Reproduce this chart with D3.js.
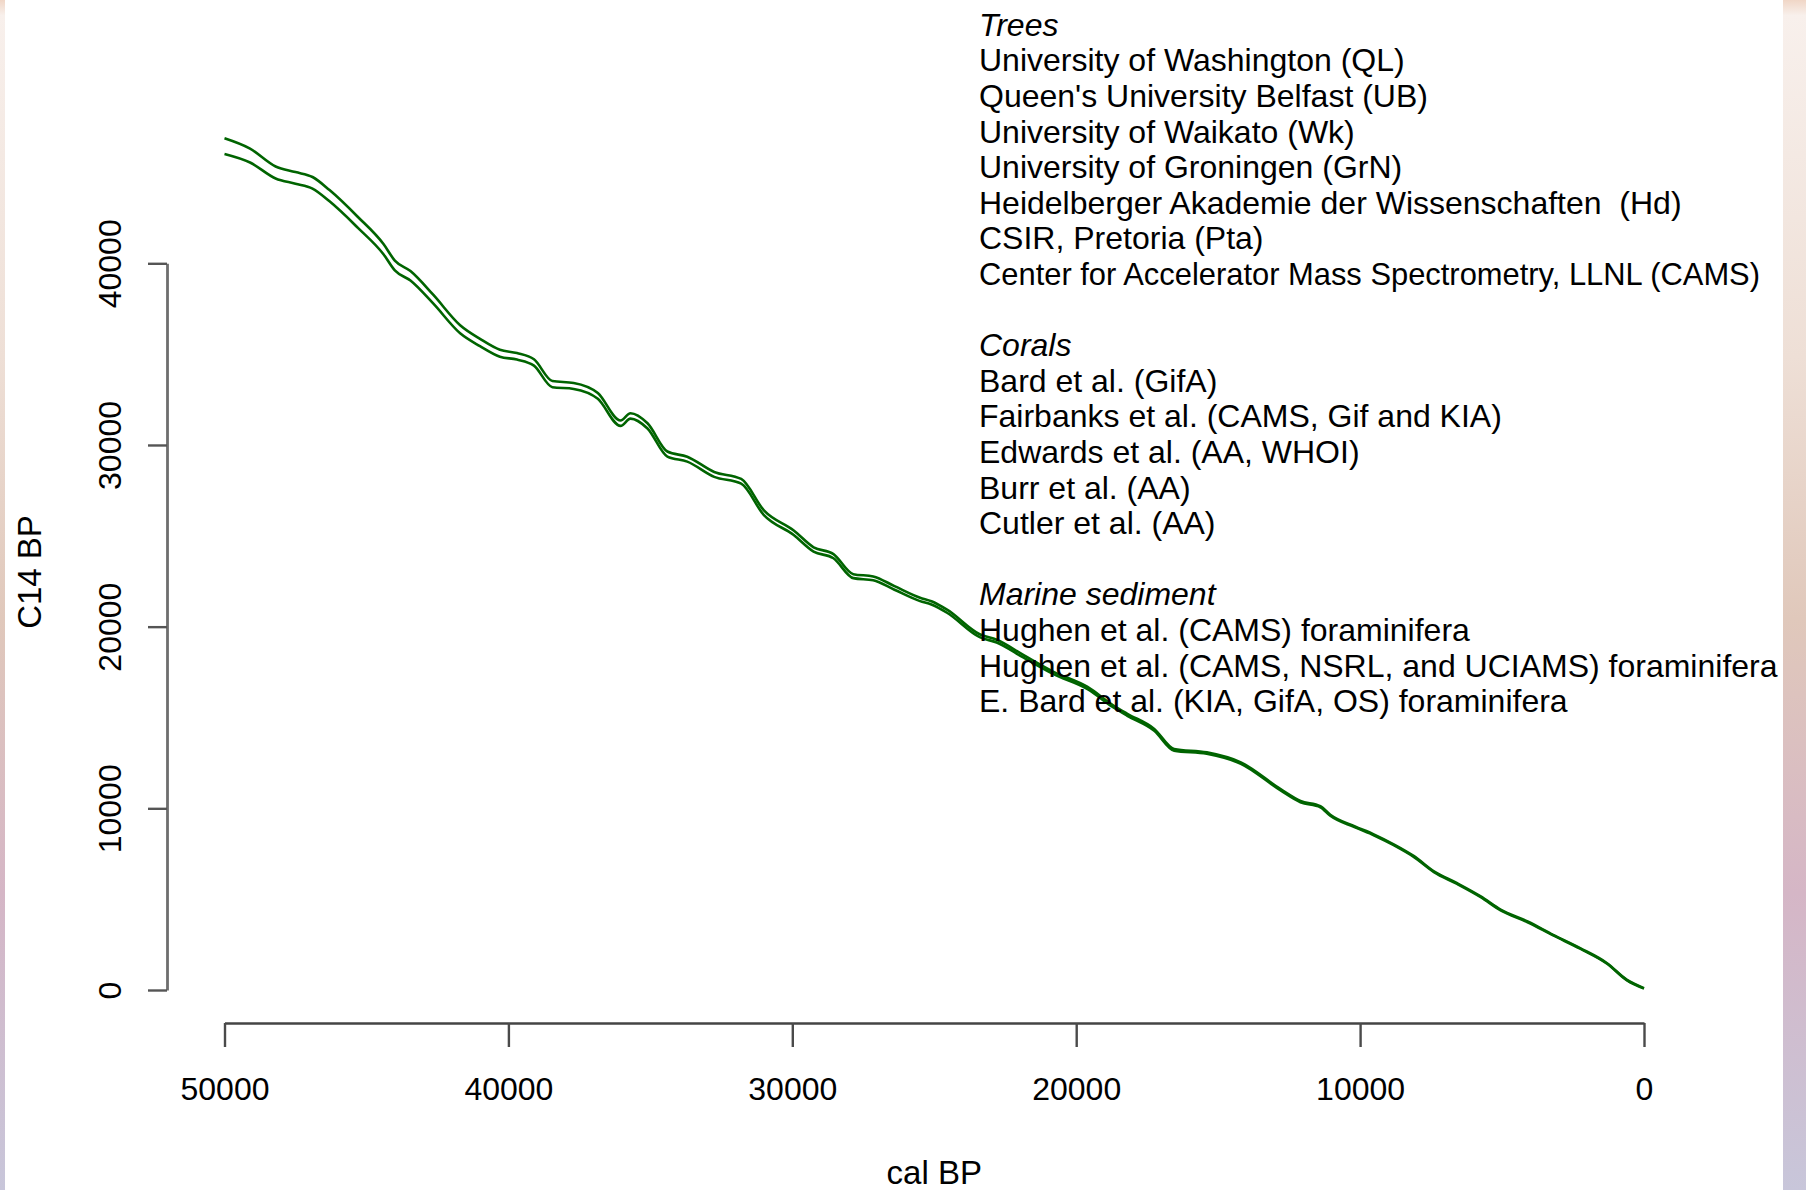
<!DOCTYPE html>
<html>
<head>
<meta charset="utf-8">
<script src="https://cdn.jsdelivr.net/npm/d3@7"></script>
<style>
  html, body { margin: 0; padding: 0; background: #ffffff; }
  svg { display: block; }
  text { font-family: "Liberation Sans", Arial, Helvetica, sans-serif; }
</style>
</head>
<body>
<svg id="chart" width="1806" height="1190"></svg>
<script>
// Calibrated age (cal BP) of each curve node
const calBP = [50000, 49100, 48200, 47500, 46900, 46300, 45300, 44400, 44000, 43450,
  42650, 41700, 41000, 40300, 39700, 39100, 38450, 37700, 36850, 36050,
  35700, 35100, 34400, 33700, 32750, 31800, 31000, 29950, 29250, 28550,
  27850, 27150, 26400, 25500, 25100, 24550, 23400, 22800, 21850, 20800,
  19600, 18700, 18200, 17250, 16550, 15400, 14200, 12800, 12100, 11400,
  11050, 10200, 9500, 8800, 8100, 7400, 6600, 5750, 5050, 4100,
  3200, 2250, 1300, 600, 0];

// Radiocarbon age (C14 BP) of the curve at each node
const c14BP = [46450, 45930, 45000, 44700, 44430, 43720, 42250, 40780, 39880, 39310,
  38030, 36370, 35640, 35050, 34880, 34540, 33350, 33250, 32700, 31200,
  31600, 31050, 29500, 29220, 28380, 28000, 26270, 25170, 24250, 23880,
  22780, 22660, 22130, 21500, 21310, 20850, 19500, 19200, 18360, 17450,
  16620, 15620, 15150, 14320, 13220, 13040, 12490, 11020, 10370, 10090,
  9620, 8990, 8530, 7980, 7340, 6510, 5870, 5130, 4400, 3750,
  3020, 2290, 1460, 540, 90];

// One-sigma half-width of the curve envelope at each node
const sigma = [430, 380, 330, 320, 320, 310, 300, 280, 270, 260,
  240, 220, 200, 190, 180, 175, 170, 165, 160, 150,
  150, 145, 140, 135, 135, 130, 130, 125, 120, 115,
  110, 105, 100, 95, 90, 85, 80, 75, 70, 65,
  60, 55, 55, 50, 45, 40, 40, 35, 35, 30,
  30, 25, 25, 25, 25, 20, 20, 20, 20, 20,
  15, 15, 15, 15, 15];

// Axis ticks
const xTicks = [50000, 40000, 30000, 20000, 10000, 0];
const yTicks = [0, 10000, 20000, 30000, 40000];

// Data source notes listed beside the curve (fit: squeeze a long line into a set width)
const legendLines = [
  { text: "Trees", italic: true },
  { text: "University of Washington (QL)" },
  { text: "Queen's University Belfast (UB)" },
  { text: "University of Waikato (Wk)" },
  { text: "University of Groningen (GrN)" },
  { text: "Heidelberger Akademie der Wissenschaften  (Hd)" },
  { text: "CSIR, Pretoria (Pta)" },
  { text: "Center for Accelerator Mass Spectrometry, LLNL (CAMS)", fit: 781 },
  { text: "" },
  { text: "Corals", italic: true },
  { text: "Bard et al. (GifA)" },
  { text: "Fairbanks et al. (CAMS, Gif and KIA)" },
  { text: "Edwards et al. (AA, WHOI)" },
  { text: "Burr et al. (AA)" },
  { text: "Cutler et al. (AA)" },
  { text: "" },
  { text: "Marine sediment", italic: true },
  { text: "Hughen et al. (CAMS) foraminifera" },
  { text: "Hughen et al. (CAMS, NSRL, and UCIAMS) foraminifera" },
  { text: "E. Bard et al. (KIA, GifA, OS) foraminifera" }
];

const W = 1806, H = 1190;
const svg = d3.select("#chart");

svg.append("rect").attr("width", W).attr("height", H).attr("fill", "#ffffff");

// Scales
const x = d3.scaleLinear().domain([50000, 0]).range([224.5, 1644]);
const y = d3.scaleLinear().domain([0, 40000]).range([990, 263.3]);

// X axis
const xAxis = svg.append("g")
  .attr("transform", "translate(0,1023)")
  .call(d3.axisBottom(x).tickValues(xTicks).tickSize(24).tickSizeOuter(0)
    .tickFormat(d3.format("d")));
xAxis.select(".domain").attr("stroke", "#444").attr("stroke-width", 2.6);
xAxis.selectAll(".tick line").attr("stroke", "#4a4a4a").attr("stroke-width", 2.4);
xAxis.selectAll(".tick text")
  .attr("y", 76.5).attr("dy", 0)
  .attr("font-size", 32).attr("fill", "#000")
  .style("font-family", "'Liberation Sans', Arial, sans-serif");

// Y axis, labels parallel to the axis
const yAxis = svg.append("g")
  .attr("transform", "translate(167,0)")
  .call(d3.axisLeft(y).tickValues(yTicks).tickSize(19).tickSizeOuter(0)
    .tickFormat(d3.format("d")));
yAxis.select(".domain").attr("stroke", "#6e6e6e").attr("stroke-width", 2.8);
yAxis.selectAll(".tick line").attr("stroke", "#555").attr("stroke-width", 2.4);
yAxis.selectAll(".tick text")
  .attr("transform", "rotate(-90)")
  .attr("x", 0).attr("y", -46).attr("dy", 0)
  .attr("text-anchor", "middle")
  .attr("font-size", 32).attr("fill", "#000")
  .style("font-family", "'Liberation Sans', Arial, sans-serif");

// Axis titles
svg.append("text")
  .attr("x", 934.3).attr("y", 1184)
  .attr("text-anchor", "middle").attr("font-size", 33).attr("fill", "#000")
  .text("cal BP");
svg.append("text")
  .attr("transform", "translate(41,572) rotate(-90)")
  .attr("text-anchor", "middle").attr("font-size", 33).attr("fill", "#000")
  .text("C14 BP");

// Calibration curve: upper and lower envelope lines
const pts = calBP.map((c, i) => ({ cal: c, age: c14BP[i], s: sigma[i] }));
const upper = d3.line().curve(d3.curveMonotoneX)
  .x(d => x(d.cal)).y(d => y(d.age + d.s));
const lower = d3.line().curve(d3.curveMonotoneX)
  .x(d => x(d.cal)).y(d => y(d.age - d.s));
const curves = svg.append("g")
  .attr("fill", "none").attr("stroke", "#006400")
  .attr("stroke-width", 2.6).attr("stroke-linejoin", "round").attr("stroke-linecap", "butt");
curves.append("path").datum(pts).attr("d", upper);
curves.append("path").datum(pts).attr("d", lower);

// Source list
const legend = svg.append("g").attr("transform", "translate(979,0)");
legend.selectAll("text")
  .data(legendLines)
  .join("text")
  .attr("x", 0)
  .attr("y", (d, i) => 35.8 + i * 35.6)
  .attr("font-size", 32)
  .attr("fill", "#000")
  .attr("font-style", d => d.italic ? "italic" : "normal")
  .style("white-space", "pre")
  .attr("xml:space", "preserve")
  .each(function (d) {
    if (d.fit) d3.select(this).attr("textLength", d.fit).attr("lengthAdjust", "spacingAndGlyphs");
  })
  .text(d => d.text);

// Page frame: soft tinted strips on the left and right edges, drawn on top
const defs = svg.append("defs");
const edge = defs.append("linearGradient")
  .attr("id", "edgeGrad").attr("x1", 0).attr("y1", 0).attr("x2", 0).attr("y2", 1);
[[0, "#f0d6c6"], [0.013, "#f8f0ec"], [0.3, "#eedfd6"], [0.52, "#e0c8bb"],
 [0.75, "#d5b6c6"], [1, "#c8c6da"]].forEach(([o, c]) =>
  edge.append("stop").attr("offset", o).attr("stop-color", c));

svg.append("rect").attr("x", 0).attr("y", 0).attr("width", 5).attr("height", H)
  .attr("fill", "url(#edgeGrad)");
svg.append("rect").attr("x", 1783).attr("y", 0).attr("width", W - 1783).attr("height", H)
  .attr("fill", "url(#edgeGrad)");
</script>
</body>
</html>
